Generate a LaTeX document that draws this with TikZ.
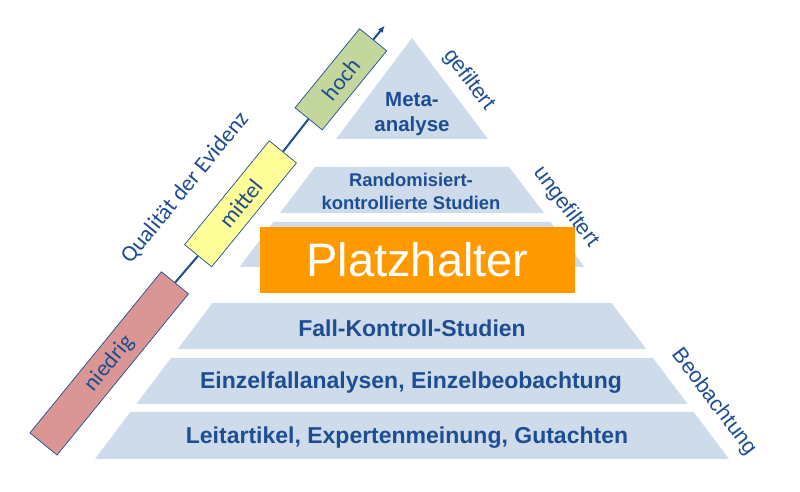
\documentclass[tikz,border=0pt]{standalone}
\usepackage{fontspec}
\setmainfont{Liberation Sans}
\newfontfamily\calfont{Carlito}
\usetikzlibrary{arrows.meta}
\definecolor{tb}{RGB}{30,78,145}
\definecolor{pf}{RGB}{205,219,234}
\definecolor{org}{RGB}{255,153,0}
\definecolor{gr}{RGB}{195,214,155}
\definecolor{ye}{RGB}{255,255,153}
\definecolor{ro}{RGB}{217,150,148}
\begin{document}
\begin{tikzpicture}[x=1pt,y=1pt,
  layer/.style={fill=pf},
  lvl/.style={text=tb,font=\bfseries\fontsize{23}{27}\selectfont,anchor=base,inner sep=0},
  side/.style={text=tb,font=\fontsize{21.5}{25}\selectfont,rotate=-53,inner sep=0},
  qbox/.style={draw=tb,line width=0.7pt,rotate=50.8,inner sep=0,minimum height=35,
    text=tb,font=\calfont\fontsize{23}{27}\selectfont},
  axisline/.style={draw=tb,line width=2pt}
  ]
\useasboundingbox (0,0) rectangle (800,492);
\fill[white] (0,0) rectangle (800,492);
% pyramid layers
\fill[layer] (412,454) -- (336,353) -- (488,353) -- cycle;
\fill[layer] (315,325) -- (509,325) -- (544,279) -- (280,279) -- cycle;
\fill[layer] (273.4,270) -- (550.6,270) -- (584.4,225) -- (239.6,225) -- cycle;
\fill[layer] (212.5,189) -- (611.5,189) -- (646.2,143) -- (177.8,143) -- cycle;
\fill[layer] (171,134) -- (653,134) -- (687.6,88) -- (136.4,88) -- cycle;
\fill[layer] (130.4,80) -- (693.6,80) -- (729,33) -- (95,33) -- cycle;
% level texts
\node[lvl,font=\bfseries\fontsize{20.5}{24}\selectfont] (meta1) at (412,385) {Meta-};
\node[lvl,font=\bfseries\fontsize{20.5}{24}\selectfont] (meta2) at (412,360) {analyse};
\node[lvl,font=\bfseries\fontsize{18.4}{22}\selectfont] (rct1) at (411,305) {Randomisiert-};
\node[lvl,font=\bfseries\fontsize{18.4}{22}\selectfont] (rct2) at (411,282) {kontrollierte Studien};
\node[fill=org,minimum width=315,minimum height=66,inner sep=0,text=white,
  font=\fontsize{47}{50}\selectfont] (ph) at (417.5,232) {Platzhalter};
\node[lvl] (fk) at (412,155) {Fall-Kontroll-Studien};
\node[lvl] (ez) at (411,103) {Einzelfallanalysen, Einzelbeobachtung};
\node[lvl] (la) at (407,48) {Leitartikel, Expertenmeinung, Gutachten};
% side labels
\node[side] (gef) at (469,412) {gefiltert};
\node[side] (ungef) at (566,285) {ungefiltert};
\node[side] (beob) at (714,90) {Beobachtung};
% evidence axis
\node[qbox,fill=ro,minimum width=208] (nied) at (109.2,128.6) {niedrig};
\node[qbox,fill=ye,minimum width=134] (mitt) at (240.5,288.2) {mittel};
\node[qbox,fill=gr,minimum width=102] (hoch) at (340.9,412.7) {hoch};
\coordinate (tip) at (384.8,466.4);
\draw[axisline] (nied.east) -- (mitt.west);
\draw[axisline] (mitt.east) -- (hoch.west);
\draw[axisline,-{Latex[length=7pt,width=6pt]}] (hoch.east) -- (tip);
\node[text=tb,rotate=50.8,inner sep=0,font=\calfont\fontsize{23}{27}\selectfont] (qual) at (185,304) {Qualität der Evidenz};
\end{tikzpicture}
\end{document}
